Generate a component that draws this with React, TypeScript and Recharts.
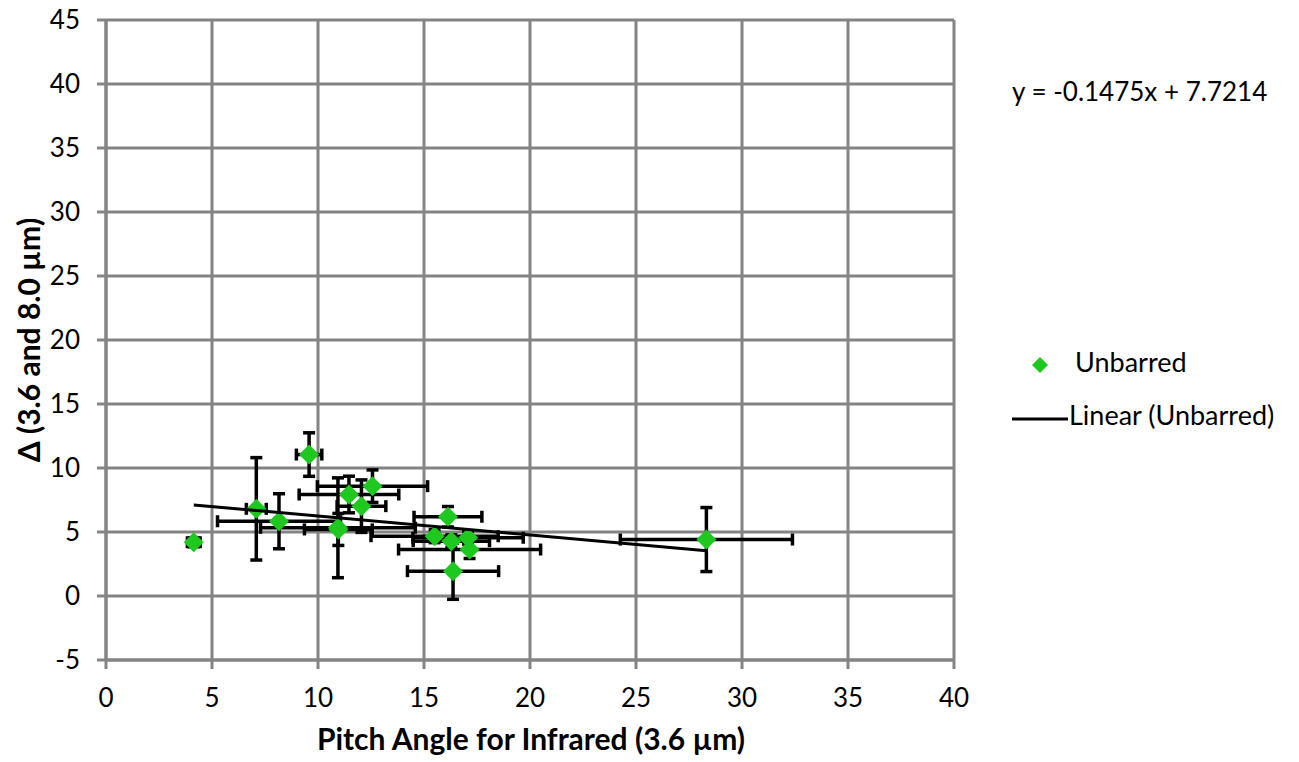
import React from 'react';
import { ScatterChart, Scatter, XAxis, YAxis, CartesianGrid, ErrorBar } from 'recharts';

// Unbarred galaxies: pitch angle (3.6 µm) vs Δ (3.6 and 8.0 µm)
const pitchAngle = [4.14, 7.09, 9.58, 8.16, 10.94, 10.96, 11.46, 12.57, 12.05, 16.13, 15.5, 16.29, 16.37, 17.08, 17.15, 28.32];
const delta = [4.2, 6.81, 11.05, 5.84, 5.33, 5.2, 7.93, 8.58, 7.02, 6.19, 4.67, 4.28, 1.94, 4.55, 3.63, 4.41];
const pitchErr = [0.3, 0.47, 0.6, 2.9, 3.65, 1.6, 2.35, 2.6, 1.15, 1.6, 3.0, 1.8, 2.15, 2.6, 3.35, 4.06];
const deltaErr = [0.35, 4.0, 1.7, 2.15, 3.9, 1.25, 1.43, 1.27, 2.05, 0.8, 0.5, 0.5, 2.2, 0.5, 0.7, 2.5];

// Linear trend line (Unbarred) end points
const trendX = [4.14, 28.32];
const trendY = [7.11, 3.54];

const xTicks = [0, 5, 10, 15, 20, 25, 30, 35, 40];
const yTicks = [-5, 0, 5, 10, 15, 20, 25, 30, 35, 40, 45];

const equationText = 'y = -0.1475x + 7.7214';
const seriesName = 'Unbarred';
const trendName = 'Linear (Unbarred)';
const xTitle = 'Pitch Angle for Infrared (3.6 µm)';
const yTitle = 'Δ (3.6 and 8.0 µm)';

const points = pitchAngle.map((x, i) => ({ x, y: delta[i], xErr: pitchErr[i], yErr: deltaErr[i] }));
const trend = trendX.map((x, i) => ({ x, y: trendY[i] }));

const GREEN = '#1ec81e';
const GRID = '#848484';
const FONT = 'Lato, "Open Sans", sans-serif';

const Diamond = (props: any) => {
  const { cx, cy } = props;
  if (cx == null || cy == null) return null;
  const r = 10;
  return <polygon points={`${cx},${cy - r} ${cx + r},${cy} ${cx},${cy + r} ${cx - r},${cy}`} fill={GREEN} />;
};

const NoShape = () => <g />;

export default function App() {
  return (
    <div style={{ position: 'absolute', left: 0, top: 0, width: 1299, height: 762, background: '#fff' }}>
      <ScatterChart
        width={1299}
        height={762}
        margin={{ top: 20, right: 345, bottom: 42, left: 0 }}
      >
        <CartesianGrid stroke={GRID} strokeWidth={3} />
        <XAxis
          type="number"
          dataKey="x"
          domain={[0, 40]}
          ticks={xTicks}
          interval={0}
          height={60}
          tickSize={9}
          tickMargin={20}
          axisLine={{ stroke: GRID, strokeWidth: 3 }}
          tickLine={{ stroke: GRID, strokeWidth: 3 }}
          tick={{ fontFamily: FONT, fontSize: 26, fill: '#000' }}
          allowDataOverflow
        />
        <YAxis
          type="number"
          dataKey="y"
          domain={[-5, 45]}
          ticks={yTicks}
          interval={0}
          width={106}
          tickSize={9}
          tickMargin={17}
          axisLine={{ stroke: GRID, strokeWidth: 3 }}
          tickLine={{ stroke: GRID, strokeWidth: 3 }}
          tick={{ fontFamily: FONT, fontSize: 26, fill: '#000' }}
          allowDataOverflow
        />
        <Scatter name={seriesName} data={points} shape={Diamond} isAnimationActive={false}>
          <ErrorBar dataKey="xErr" direction="x" width={6} strokeWidth={3.5} stroke="#000" isAnimationActive={false} />
          <ErrorBar dataKey="yErr" direction="y" width={6} strokeWidth={3.5} stroke="#000" isAnimationActive={false} />
        </Scatter>
        <Scatter
          name={trendName}
          data={trend}
          shape={NoShape}
          line={{ stroke: '#000', strokeWidth: 3 }}
          lineType="joint"
          isAnimationActive={false}
        />
      </ScatterChart>
      <svg
        width={1299}
        height={762}
        style={{ position: 'absolute', left: 0, top: 0, pointerEvents: 'none' }}
      >
        <text x={1012} y={101} fontFamily={FONT} fontSize={26} fill="#000">{equationText}</text>
        <polygon points="1040,357 1048,365 1040,373 1032,365" fill={GREEN} />
        <text x={1075} y={372} fontFamily={FONT} fontSize={27} fill="#000">{seriesName}</text>
        <line x1={1012} y1={419} x2={1068} y2={419} stroke="#000" strokeWidth={3} />
        <text x={1069} y={425} fontFamily={FONT} fontSize={27} fill="#000">{trendName}</text>
        <text x={531} y={750} textAnchor="middle" fontFamily={FONT} fontWeight="bold" fontSize={30} fill="#000">{xTitle}</text>
        <text
          x={0}
          y={0}
          transform="translate(40,340) rotate(-90)"
          textAnchor="middle"
          fontFamily={FONT}
          fontWeight="bold"
          fontSize={30}
          fill="#000"
        >{yTitle}</text>
      </svg>
    </div>
  );
}
